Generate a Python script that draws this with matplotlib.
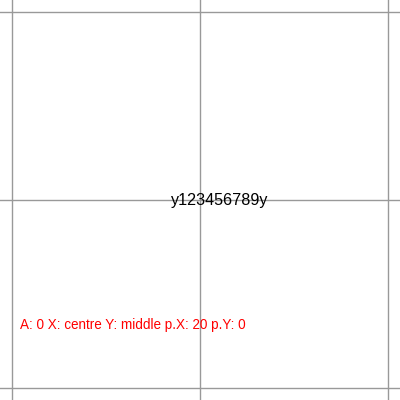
import matplotlib.pyplot as plt

plt.rcParams['font.family'] = ['Liberation Sans', 'DejaVu Sans']

grid_x = [12, 200, 388]
grid_y = [12, 200, 388]
label_text = 'y123456789y'
label_pos = (200, 200)
pad_x = 20
info_text = 'A: 0 X: centre Y: middle p.X: 20 p.Y: 0'

fig = plt.figure(figsize=(4, 4), dpi=100)
fig.set_facecolor('white')
ax = fig.add_axes([0, 0, 1, 1])
ax.set_xlim(0, 400)
ax.set_ylim(400, 0)
ax.axis('off')

for gx in grid_x:
    ax.axvline(gx, color='#999999', lw=1)
for gy in grid_y:
    ax.axhline(gy, color='#999999', lw=1)

ax.text(label_pos[0] + pad_x, label_pos[1], label_text, ha='center', va='center',
        fontsize=11.6, color='black')
ax.text(20, 325, info_text, ha='left', va='center', fontsize=9.75, color='red')

fig.savefig('out.png', dpi=100)
